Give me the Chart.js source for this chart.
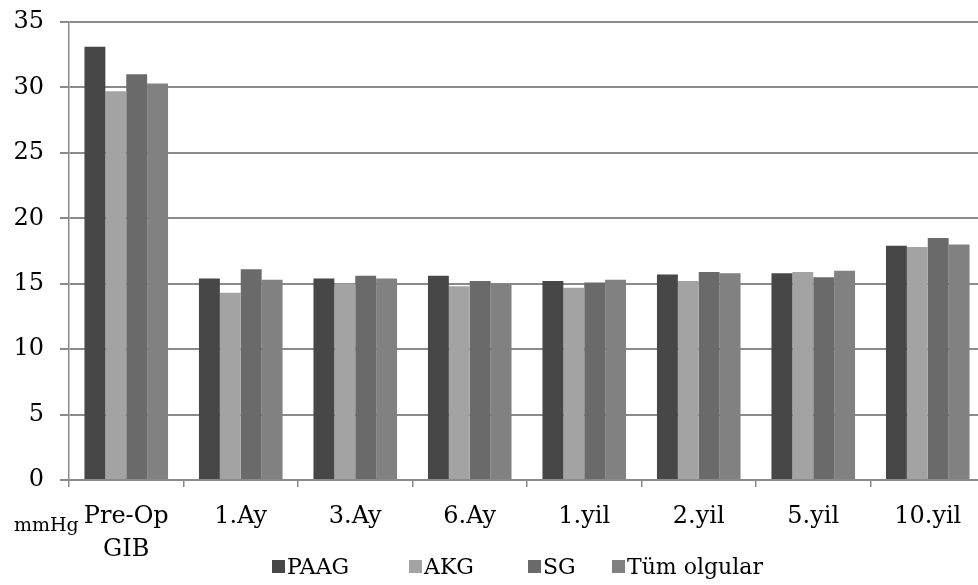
<!DOCTYPE html>
<html>
<head>
<meta charset="utf-8">
<script src="https://cdn.jsdelivr.net/npm/chart.js@4"></script>
<style>
  html, body { margin: 0; padding: 0; background: #fff; overflow: hidden; }
  #wrap { position: relative; width: 988px; height: 585px; }
  #legend { position: absolute; left: 0; top: 0; width: 988px; height: 585px; pointer-events: none; }
  .item { position: absolute; top: 554px; font-family: "DejaVu Serif", serif; font-size: 22px; color: #000; white-space: nowrap; }
  .box { display: inline-block; width: 13px; height: 13px; margin-right: 2px; vertical-align: 1px; }
</style>
</head>
<body>
<div id="wrap">
  <canvas id="chart" width="988" height="585"></canvas>
  <div id="legend"></div>
</div>
<script>
const categories = [['Pre-Op', 'GIB'], '1.Ay', '3.Ay', '6.Ay', '1.yil', '2.yil', '5.yil', '10.yil'];
const seriesNames = ['PAAG', 'AKG', 'SG', 'Tüm olgular'];
const paag = [33.1, 15.4, 15.4, 15.6, 15.2, 15.7, 15.8, 17.9];
const akg = [29.7, 14.3, 15.0, 14.8, 14.7, 15.2, 15.9, 17.8];
const sg = [31.0, 16.1, 15.6, 15.2, 15.1, 15.9, 15.5, 18.5];
const tum = [30.3, 15.3, 15.4, 15.0, 15.3, 15.8, 16.0, 18.0];
const unitLabel = 'mmHg';

const colors = ['#474747', '#a3a3a3', '#6a6a6a', '#818181'];
const seriesValues = [paag, akg, sg, tum];

// legend laid out like the original (uneven spacing)
const legendLeft = [272, 409, 528, 612];
const legendDiv = document.getElementById('legend');
seriesNames.forEach((name, i) => {
    const el = document.createElement('div');
    el.className = 'item';
    el.style.left = legendLeft[i] + 'px';
    el.innerHTML = '<span class="box" style="background:' + colors[i] + '"></span>' + name;
    legendDiv.appendChild(el);
});

// small unit label left of the first category
const unitPlugin = {
    id: 'unitLabel',
    afterDraw(chart) {
        const ctx = chart.ctx;
        ctx.save();
        ctx.font = '19px "DejaVu Serif"';
        ctx.fillStyle = '#000';
        ctx.textAlign = 'left';
        ctx.textBaseline = 'alphabetic';
        ctx.fillText(unitLabel, 14, 531);
        ctx.restore();
    }
};

const ctx = document.getElementById('chart').getContext('2d');
new Chart(ctx, {
    type: 'bar',
    data: {
        labels: categories,
        datasets: seriesNames.map((name, i) => ({
            label: name,
            data: seriesValues[i],
            backgroundColor: colors[i],
            borderWidth: 0,
            barPercentage: 1,
            categoryPercentage: 0.73
        }))
    },
    options: {
        responsive: false,
        animation: false,
        layout: { padding: { top: 22, right: 3, left: 0, bottom: 0 } },
        plugins: {
            legend: { display: false },
            tooltip: { enabled: false }
        },
        scales: {
            x: {
                afterFit: scale => { scale.height = 105; },
                grid: {
                    offset: true,
                    drawOnChartArea: false,
                    drawTicks: true,
                    tickLength: 7,
                    color: '#8a8a8a',
                    lineWidth: 1.5
                },
                border: { display: true, color: '#8a8a8a', width: 2 },
                ticks: {
                    font: { family: 'DejaVu Serif', size: 24, lineHeight: 1.35 },
                    color: '#000',
                    padding: 14,
                    maxRotation: 0,
                    autoSkip: false
                }
            },
            y: {
                min: 0,
                max: 35,
                afterFit: scale => {
                    scale.width = 69;
                    scale.paddingTop = 0;
                    scale.paddingBottom = 0;
                },
                grid: {
                    color: '#8a8a8a',
                    lineWidth: 2,
                    drawTicks: true,
                    tickLength: 9
                },
                border: { display: true, color: '#8a8a8a', width: 1.5 },
                ticks: {
                    stepSize: 5,
                    font: { family: 'DejaVu Serif', size: 24 },
                    color: '#000',
                    padding: 16
                }
            }
        }
    },
    plugins: [unitPlugin]
});
</script>
</body>
</html>
